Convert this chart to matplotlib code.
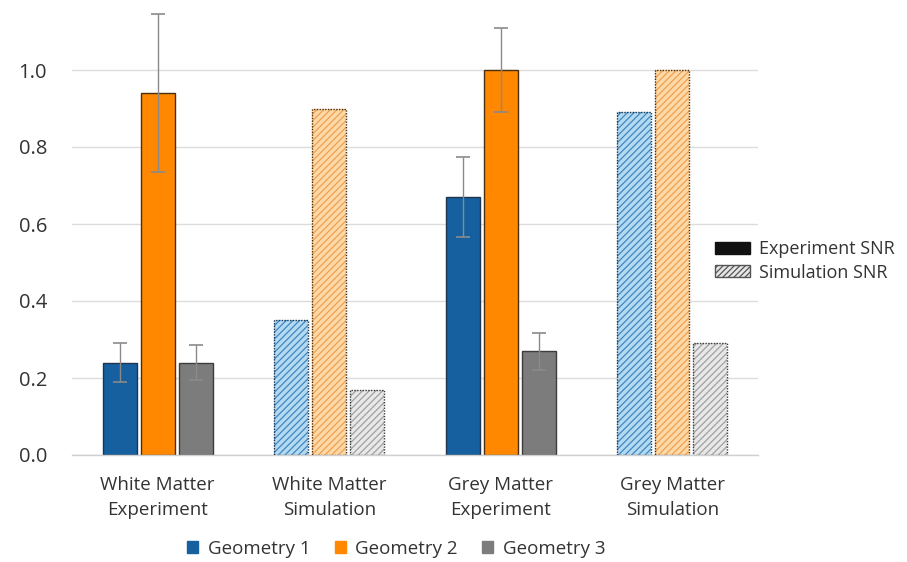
import matplotlib
matplotlib.use("Agg")
import matplotlib.pyplot as plt
import matplotlib.patches as mpatches
import numpy as np

plt.rcParams['font.family'] = ['Open Sans', 'DejaVu Sans']
plt.rcParams['hatch.linewidth'] = 0.9

categories = ["White Matter\nExperiment", "White Matter\nSimulation",
              "Grey Matter\nExperiment", "Grey Matter\nSimulation"]
simulated = [False, True, False, True]

geom1 = [0.24, 0.35, 0.67, 0.89]
geom2 = [0.94, 0.90, 1.00, 1.00]
geom3 = [0.24, 0.17, 0.27, 0.29]

err1 = [0.050, 0.0, 0.105, 0.0]
err2 = [0.205, 0.0, 0.110, 0.0]
err3 = [0.045, 0.0, 0.048, 0.0]

series_names = ["Geometry 1", "Geometry 2", "Geometry 3"]
series_vals = [geom1, geom2, geom3]
series_errs = [err1, err2, err3]

solid_colors = ["#16609f", "#ff8800", "#7c7c7c"]
light_colors = ["#b4daf2", "#fdd9a8", "#e8e8e8"]
hatch_colors = ["#3f86bf", "#f0a050", "#a0a0a0"]
edge_colors = ["#1f3550", "#4a2e10", "#3c3c3c"]

fig = plt.figure(figsize=(9.07, 5.62), dpi=100)
ax = fig.add_axes([72 / 907, 1 - 455 / 562, (758 - 72) / 907, 445 / 562])

x = np.arange(len(categories))
width = 0.2
offsets = [-0.222, 0.0, 0.222]

for k in range(3):
    for i, cat in enumerate(categories):
        xi = x[i] + offsets[k]
        v = series_vals[k][i]
        if simulated[i]:
            ax.bar(xi, v, width, color=light_colors[k], edgecolor=hatch_colors[k],
                   hatch='/////', linewidth=0, zorder=2)
            ax.bar(xi, v, width, fill=False, edgecolor=edge_colors[k],
                   linewidth=1.0, linestyle=(0, (1, 1)), zorder=3)
        else:
            ax.bar(xi, v, width, color=solid_colors[k], edgecolor=edge_colors[k],
                   linewidth=1.0, zorder=2)
            e = series_errs[k][i]
            if e > 0:
                ax.errorbar(xi, v, yerr=e, fmt='none', ecolor='#8a8a8a',
                            elinewidth=1.0, capsize=5, capthick=1.2, zorder=4)

ax.set_xlim(-0.5, 3.5)
ax.set_ylim(0, 445 / 385)
ax.set_yticks([0.0, 0.2, 0.4, 0.6, 0.8, 1.0])
ax.set_yticklabels(["0.0", "0.2", "0.4", "0.6", "0.8", "1.0"])
ax.set_xticks(x)
ax.set_xticklabels(categories, linespacing=1.5)
ax.tick_params(axis='y', length=0, pad=18, labelsize=14.5, labelcolor='#333333')
ax.tick_params(axis='x', length=0, pad=15, labelsize=13.5, labelcolor='#333333')
ax.grid(axis='y', color='#dcdcdc', linewidth=1.0, zorder=0)
ax.set_axisbelow(True)
for s in ['top', 'right', 'left']:
    ax.spines[s].set_visible(False)
ax.spines['bottom'].set_color('#d0d0d0')
ax.spines['bottom'].set_linewidth(1.0)

# Legend for data type (solid vs hatched)
type_handles = [
    mpatches.Patch(facecolor='#111111', edgecolor='#111111', label='Experiment SNR'),
    mpatches.Patch(facecolor='#e6e6e6', edgecolor='#555555', hatch='//////',
                   label='Simulation SNR'),
]
fig.legend(handles=type_handles, loc='center left', bbox_to_anchor=(699 / 907, 1 - 261 / 562),
           frameon=False, fontsize=13, handlelength=1.95, handleheight=0.65,
           handletextpad=0.45, labelspacing=0.3, labelcolor='#333333')

# Legend for geometry colours
geom_handles = [mpatches.Patch(facecolor=c, edgecolor=c, label=n)
                for c, n in zip(solid_colors, series_names)]
fig.legend(handles=geom_handles, loc='center', bbox_to_anchor=(396 / 907, 1 - 549 / 562),
           ncol=3, frameon=False, fontsize=13.5, handlelength=0.6, handleheight=0.6,
           handletextpad=0.5, columnspacing=1.3, labelcolor='#333333')

fig.savefig("out.png", dpi=100)
